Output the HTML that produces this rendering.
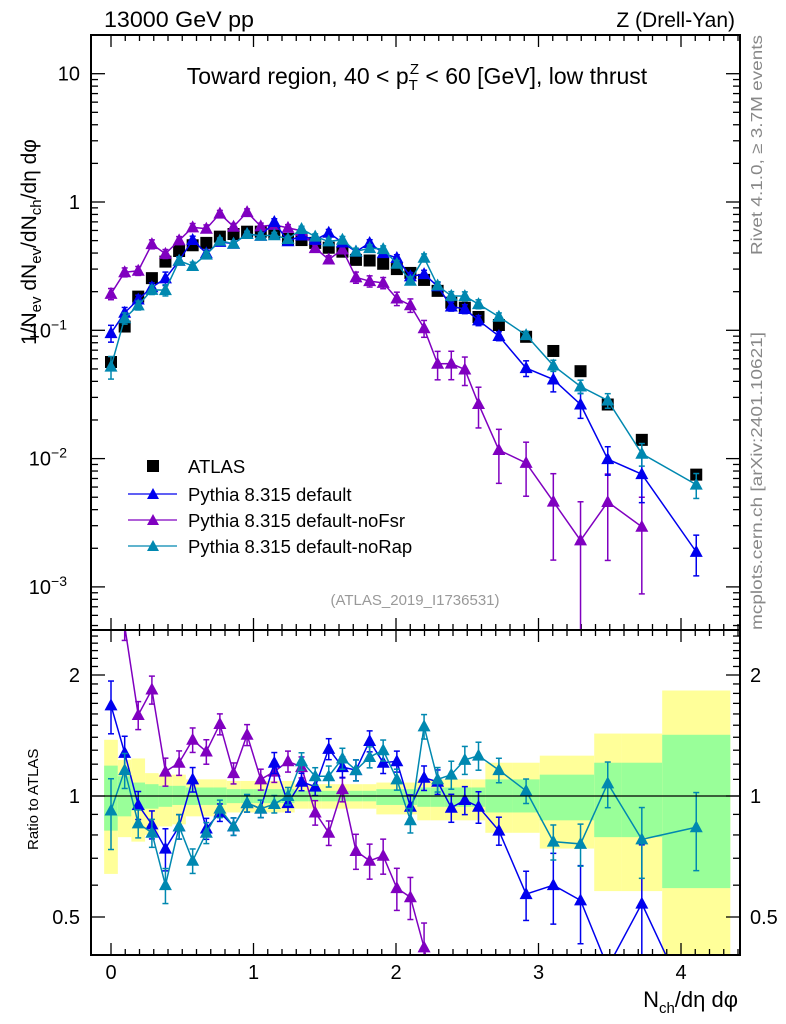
<!DOCTYPE html>
<html><head><meta charset="utf-8"><style>
html,body{margin:0;padding:0;background:#fff;width:786px;height:1024px;overflow:hidden;}
svg{display:block;font-family:"Liberation Sans",Arial,sans-serif;}
</style></head><body>
<svg id="chart" width="786" height="1024" viewBox="0 0 786 1024" overflow="hidden">
<defs>
<clipPath id="clipMain"><rect x="91" y="35" width="649" height="595"/></clipPath>
<clipPath id="clipRatio"><rect x="91" y="630" width="649" height="325"/></clipPath>
</defs>
<g id="bands" clip-path="url(#clipRatio)"></g>
<g id="grid"></g>
<g id="ticks"></g>
<g id="series-main" clip-path="url(#clipMain)"></g>
<g id="series-ratio" clip-path="url(#clipRatio)"></g>
<rect x="91" y="35" width="649" height="595" fill="none" stroke="#000" stroke-width="2"/>
<rect x="91" y="630" width="649" height="325" fill="none" stroke="#000" stroke-width="2"/>
<line x1="91" x2="740" y1="796" y2="796" stroke="#000" stroke-width="1.3"/>
<g id="labels"></g>
<text x="104" y="27" font-size="22" textLength="150" lengthAdjust="spacingAndGlyphs">13000 GeV pp</text>
<text x="735" y="27" font-size="21" text-anchor="end">Z (Drell-Yan)</text>
<text x="417" y="84" font-size="23" text-anchor="middle">Toward region, 40 &lt; p<tspan font-size="15" dy="6">T</tspan><tspan font-size="15" dx="-8" dy="-16">Z</tspan><tspan dy="10"> &lt; 60 [GeV], low thrust</tspan></text>
<text transform="translate(36,345) rotate(-90)" font-size="21">1/N<tspan font-size="15" dy="5">ev</tspan><tspan dy="-5"> dN</tspan><tspan font-size="15" dy="5">ev</tspan><tspan dy="-5">/dN</tspan><tspan font-size="15" dy="5">ch</tspan><tspan dy="-5">/dη dφ</tspan></text>
<text transform="translate(38,850) rotate(-90)" font-size="15">Ratio to ATLAS</text>
<text x="738" y="1007" font-size="22" text-anchor="end">N<tspan font-size="15" dy="6">ch</tspan><tspan dy="-6">/dη dφ</tspan></text>
<text transform="translate(762,255) rotate(-90)" font-size="16" textLength="220" lengthAdjust="spacingAndGlyphs" fill="#888">Rivet 4.1.0, ≥ 3.7M events</text>
<text transform="translate(762,630) rotate(-90)" font-size="16" textLength="298" lengthAdjust="spacingAndGlyphs" fill="#888">mcplots.cern.ch [arXiv:2401.10621]</text>
<text x="415" y="605" font-size="15" fill="#999" text-anchor="middle">(ATLAS_2019_I1736531)</text>
<g>
<rect x="147" y="460" width="12" height="12" fill="#000"/>
<text x="188" y="473" font-size="18.5">ATLAS</text>
<line x1="128" x2="177" y1="494" y2="494" stroke="#0000ee" stroke-width="1.3"/>
<polygon points="153,488 147,499 159,499" fill="#0000ee"/>
<text x="188" y="501" font-size="18.5">Pythia 8.315 default</text>
<line x1="128" x2="177" y1="520" y2="520" stroke="#8000c0" stroke-width="1.3"/>
<polygon points="153,514 147,525 159,525" fill="#8000c0"/>
<text x="188" y="527" font-size="18.5">Pythia 8.315 default-noFsr</text>
<line x1="128" x2="177" y1="546" y2="546" stroke="#0088b0" stroke-width="1.3"/>
<polygon points="153,540 147,551 159,551" fill="#0088b0"/>
<text x="188" y="553" font-size="18.5">Pythia 8.315 default-noRap</text>
</g>
</svg>
<script>
const xCenters=[0,0.096,0.191,0.287,0.382,0.478,0.573,0.669,0.764,0.86,0.955,1.051,1.146,1.242,1.337,1.433,1.528,1.624,1.719,1.815,1.91,2.006,2.101,2.197,2.292,2.388,2.483,2.579,2.722,2.913,3.104,3.295,3.486,3.725,4.107];
const binLo=[-0.048,0.048,0.143,0.239,0.334,0.43,0.525,0.621,0.716,0.812,0.907,1.003,1.098,1.194,1.289,1.385,1.48,1.576,1.671,1.767,1.862,1.958,2.053,2.149,2.244,2.34,2.435,2.531,2.627,2.818,3.009,3.2,3.391,3.582,3.868];
const binHi=[0.048,0.143,0.239,0.334,0.43,0.525,0.621,0.716,0.812,0.907,1.003,1.098,1.194,1.289,1.385,1.48,1.576,1.671,1.767,1.862,1.958,2.053,2.149,2.244,2.34,2.435,2.531,2.627,2.818,3.009,3.2,3.391,3.582,3.868,4.346];
const atlas=[0.0566,0.107,0.183,0.255,0.343,0.415,0.46,0.48,0.537,0.563,0.587,0.587,0.577,0.515,0.505,0.48,0.44,0.41,0.354,0.35,0.33,0.30,0.28,0.247,0.203,0.164,0.15,0.127,0.11,0.089,0.069,0.048,0.0264,0.014,0.0075];
const ratioDefault=[1.68,1.28,0.95,0.85,0.74,0.84,1.10,0.83,0.91,0.84,0.96,0.93,1.21,0.96,1.085,1.055,1.31,1.18,1.16,1.37,1.21,1.22,0.94,1.11,1.085,0.935,0.977,0.94,0.82,0.57,0.60,0.55,0.375,0.54,0.25];
const ratioNoFsr=[3.4,2.65,1.59,1.84,1.15,1.21,1.38,1.29,1.51,1.14,1.42,1.10,1.15,1.22,1.18,0.91,0.81,1.04,0.73,0.69,0.71,0.59,0.56,0.42,0.27,0.335,0.33,0.21,0.106,0.104,0.067,0.048,0.174,0.21,null];
const ratioNoRap=[0.92,1.16,0.855,0.81,0.60,0.84,0.69,0.81,0.93,0.84,0.96,0.93,0.955,1.0,1.22,1.12,1.12,1.24,1.16,1.25,1.30,1.10,0.87,1.49,1.10,1.13,1.23,1.26,1.16,1.03,0.77,0.76,1.075,0.78,0.836];
const errDefault=[0.15,0.1,0.08,0.08,0.12,0.07,0.07,0.06,0.05,0.05,0.05,0.05,0.06,0.05,0.05,0.05,0.06,0.06,0.06,0.06,0.06,0.06,0.07,0.07,0.07,0.08,0.08,0.09,0.08,0.14,0.2,0.22,0.25,0.4,0.35];
const errNoFsr=[0.1,0.08,0.08,0.08,0.08,0.07,0.07,0.07,0.06,0.06,0.06,0.06,0.06,0.06,0.06,0.07,0.07,0.07,0.1,0.1,0.1,0.12,0.12,0.15,0.25,0.25,0.25,0.35,0.45,0.45,0.65,1.0,0.65,0.7,0];
const errNoRap=[0.2,0.1,0.08,0.08,0.1,0.07,0.07,0.06,0.05,0.05,0.05,0.05,0.05,0.05,0.05,0.05,0.06,0.06,0.06,0.06,0.06,0.06,0.07,0.07,0.07,0.08,0.08,0.08,0.07,0.07,0.1,0.12,0.13,0.2,0.22];
const yellowHi=[1.38,1.23,1.24,1.14,1.13,1.13,1.10,1.10,1.10,1.09,1.09,1.09,1.09,1.09,1.07,1.07,1.07,1.07,1.07,1.07,1.08,1.08,1.08,1.10,1.10,1.10,1.10,1.10,1.21,1.21,1.26,1.26,1.43,1.43,1.83];
const yellowLo=[0.64,0.79,0.77,0.80,0.84,0.85,0.89,0.89,0.89,0.91,0.91,0.91,0.91,0.91,0.93,0.93,0.93,0.93,0.93,0.93,0.90,0.90,0.90,0.87,0.87,0.87,0.87,0.87,0.81,0.81,0.74,0.74,0.58,0.58,0.3];
const greenHi=[1.19,1.12,1.08,1.07,1.06,1.06,1.05,1.05,1.05,1.04,1.04,1.04,1.04,1.04,1.03,1.03,1.03,1.03,1.03,1.03,1.04,1.04,1.04,1.05,1.05,1.05,1.05,1.05,1.10,1.10,1.13,1.13,1.21,1.21,1.42];
const greenLo=[0.82,0.89,0.92,0.93,0.94,0.95,0.95,0.95,0.95,0.96,0.96,0.96,0.96,0.96,0.97,0.97,0.97,0.97,0.97,0.97,0.95,0.95,0.95,0.94,0.94,0.94,0.94,0.94,0.91,0.91,0.87,0.87,0.79,0.79,0.59];
const mainTickVals=[10,1,0.1,0.01,0.001];
const mainTickLabels=["10","1","10|−1","10|−2","10|−3"];
const ratioTickVals=[2,1,0.5];
const ratioTickLabels=["2","1","0.5"];
const xTickVals=[0,1,2,3,4];
const xTickLabels=["0","1","2","3","4"];

const NS="http://www.w3.org/2000/svg";
const X=v=>111+142.5*v;
const YM=v=>202-128.3*Math.log10(v);
const YR=v=>796-121*Math.log2(v);
const clampY=(y,top,bot)=>Math.max(top,Math.min(bot,y));
function mk(tag,attrs,parent){const e=document.createElementNS(NS,tag);for(const k in attrs)e.setAttribute(k,attrs[k]);parent.appendChild(e);return e;}
const gB=document.getElementById('bands'),gT=document.getElementById('ticks'),gM=document.getElementById('series-main'),gR=document.getElementById('series-ratio'),gL=document.getElementById('labels');

for(let i=0;i<xCenters.length;i++){
  const x0=X(binLo[i]),w=X(binHi[i])-X(binLo[i]);
  const yt=clampY(YR(yellowHi[i]),630,955),yb=clampY(YR(yellowLo[i]),630,955);
  const y=mk('rect',{x:x0,y:yt,width:w,height:yb-yt,fill:'#ffff99'},gB);
  
  
  const gt=clampY(YR(greenHi[i]),630,955),gb=clampY(YR(greenLo[i]),630,955);
  const g=mk('rect',{x:x0,y:gt,width:w,height:gb-gt,fill:'#99ff99'},gB);
  
  
}
for(let k=0;k<=44;k++){
  const v=k/10;const major=k%10===0;const L=major?12:6;const px=X(v);
  if(px>739)continue;
  [[35,1],[630,-1],[630,1],[955,-1]].forEach(([y0,d])=>mk('line',{x1:px,x2:px,y1:y0,y2:y0+d*L,stroke:'#000','stroke-width':1.3},gT));
}
xTickVals.forEach((v,i)=>{const t=mk('text',{x:X(v),y:979,'font-size':20,'text-anchor':'middle'},gL);t.textContent=xTickLabels[i];

});
for(let d=-4;d<=1;d++){for(let m=1;m<=9;m++){const v=m*Math.pow(10,d);const py=YM(v);if(py<35||py>630)continue;const L=m===1?14:7;
 mk('line',{x1:91,x2:91+L,y1:py,y2:py,stroke:'#000','stroke-width':1.3},gT);mk('line',{x1:740,x2:740-L,y1:py,y2:py,stroke:'#000','stroke-width':1.3},gT);}}
mainTickVals.forEach((v,i)=>{const parts=mainTickLabels[i].split('|');const t=mk('text',{x:parts.length>1?67:80,y:YM(v)+7,'font-size':20,'text-anchor':'end'},gL);t.textContent=parts[0];
 if(parts.length>1){const s=mk('tspan',{'font-size':14,dy:-8},t);s.textContent=parts[1];}
 
 });
[0.4,0.5,0.6,0.7,0.8,0.9,1,1.1,1.2,1.3,1.4,1.5,1.6,1.7,1.8,1.9,2,2.1,2.2,2.3,2.4,2.5].forEach(v=>{const py=YR(v);if(py<630||py>955)return;const L=(v===0.5||v===1||v===2)?14:7;
 mk('line',{x1:91,x2:91+L,y1:py,y2:py,stroke:'#000','stroke-width':1.3},gT);mk('line',{x1:740,x2:740-L,y1:py,y2:py,stroke:'#000','stroke-width':1.3},gT);});
ratioTickVals.forEach((v,i)=>{const t=mk('text',{x:80,y:YR(v)+7,'font-size':20,'text-anchor':'end'},gL);t.textContent=ratioTickLabels[i];
 
 
 const t2=mk('text',{x:750,y:YR(v)+7,'font-size':20},gL);t2.textContent=ratioTickLabels[i];
 
 });

atlas.forEach((v,i)=>{const r=mk('rect',{x:X(xCenters[i])-6,y:YM(v)-6,width:12,height:12,fill:'#000'},gM);
 
 });

function drawSeries(ratio,err,color,name){
  const ptsM=[],ptsR=[];
  ratio.forEach((r,i)=>{if(r==null)return;const x=X(xCenters[i]);const v=atlas[i]*r;ptsM.push([x,YM(v)]);ptsR.push([x,YR(r)]);});
  const lm=mk('polyline',{points:ptsM.map(p=>p[0]+','+clampY(p[1],0,1020)).join(' '),fill:'none',stroke:color,'stroke-width':1.5},gM);
  
  
  const lr=mk('polyline',{points:ptsR.map(p=>p[0]+','+clampY(p[1],560,1020)).join(' '),fill:'none',stroke:color,'stroke-width':1.5},gR);
  
  
  ratio.forEach((r,i)=>{if(r==null)return;const x=X(xCenters[i]);const v=atlas[i]*r;const e=err[i];
    [[gM,YM,v,35,630],[gR,YR,r,630,955]].forEach(([g,F,val,top,bot])=>{
      const c=F(val);
      if(c>bot+8||c<top-8)return;
      const hi=clampY(F(val*(1+e)),top,bot);const lo=e>=1?bot:clampY(F(val*(1-e)),top,bot);
      mk('line',{x1:x,x2:x,y1:hi,y2:lo,stroke:color,'stroke-width':1.5},g);
      mk('line',{x1:x-3,x2:x+3,y1:hi,y2:hi,stroke:color,'stroke-width':1.5},g);
      mk('line',{x1:x-3,x2:x+3,y1:lo,y2:lo,stroke:color,'stroke-width':1.5},g);
      const p=mk('polygon',{points:`${x},${c-7} ${x-6.5},${c+5} ${x+6.5},${c+5}`,fill:color},g);
      
      
    });
  });
}
drawSeries(ratioNoFsr,errNoFsr,'#8000c0','pythia-nofsr');
drawSeries(ratioDefault,errDefault,'#0000ee','pythia-default');
drawSeries(ratioNoRap,errNoRap,'#0088b0','pythia-norap');
</script>
</body></html>
